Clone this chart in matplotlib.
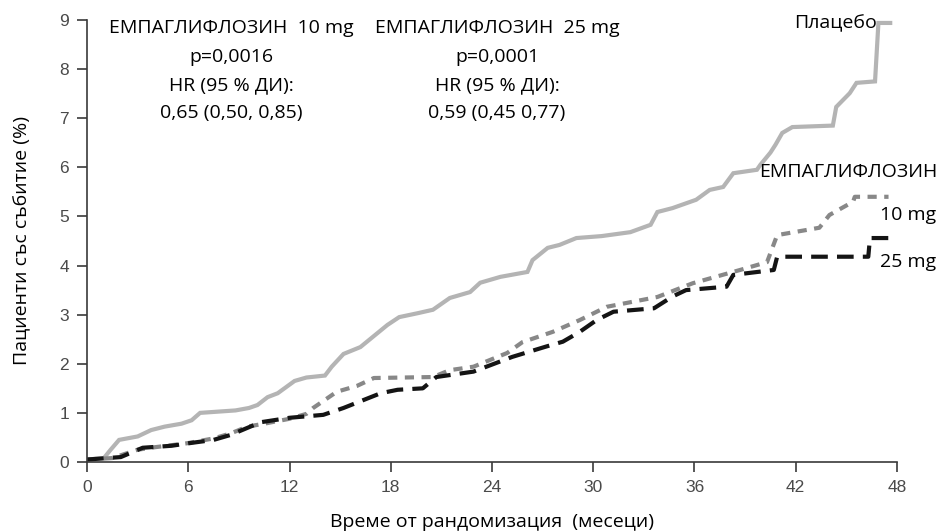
import matplotlib
matplotlib.use("Agg")
import matplotlib.pyplot as plt

# cumulative % of patients with event (months, %)
placebo_t = [0, 1.0, 1.4, 1.9, 3.0, 3.8, 4.6, 5.6, 6.2, 6.7, 8.8, 9.6, 10.1, 10.7, 11.3,
             12.3, 13.0, 14.1, 14.5, 15.2, 16.2, 17.8, 18.5, 19.6, 20.5, 21.5, 22.7,
             23.3, 24.5, 26.1, 26.4, 27.3, 28.0, 29.0, 30.5, 32.2, 33.4, 33.8, 34.7,
             36.1, 36.9, 37.7, 38.3, 39.7, 39.9, 40.5, 40.8, 41.2, 41.8, 44.2, 44.4,
             45.2, 45.6, 46.7, 46.9, 47.6]
placebo_v = [0.05, 0.08, 0.25, 0.45, 0.52, 0.65, 0.72, 0.78, 0.85, 1.00, 1.05, 1.10,
             1.16, 1.32, 1.40, 1.65, 1.72, 1.76, 1.94, 2.20, 2.34, 2.79, 2.95, 3.03,
             3.10, 3.34, 3.46, 3.65, 3.77, 3.87, 4.11, 4.36, 4.42, 4.56, 4.60, 4.68,
             4.83, 5.09, 5.17, 5.34, 5.54, 5.60, 5.88, 5.95, 6.05, 6.30, 6.46, 6.70,
             6.82, 6.85, 7.23, 7.51, 7.72, 7.75, 8.94, 8.94]

emp10_t = [0, 1.5, 3.0, 4.0, 5.9, 7.5, 8.5, 9.5, 10.5, 12.0, 13.0, 13.4, 14.8, 16.0,
           17.0, 20.5, 21.5, 22.9, 24.9, 25.8, 27.6, 29.2, 30.8, 33.8, 35.9, 38.7,
           40.3, 40.9, 43.4, 44.0, 45.4, 45.5, 47.5]
emp10_v = [0.05, 0.08, 0.25, 0.30, 0.38, 0.48, 0.58, 0.72, 0.78, 0.88, 0.98, 1.10,
           1.43, 1.55, 1.71, 1.73, 1.87, 1.94, 2.22, 2.44, 2.65, 2.89, 3.16, 3.36,
           3.64, 3.91, 4.07, 4.62, 4.77, 5.03, 5.30, 5.40, 5.40]

emp25_t = [0, 2.0, 3.3, 5.0, 6.0, 7.5, 8.5, 10.3, 12.0, 14.0, 15.2, 17.4, 18.4, 19.9,
           20.7, 22.9, 25.2, 27.2, 28.2, 29.2, 30.2, 31.2, 33.6, 34.7, 35.5, 37.9,
           38.3, 40.7, 40.9, 46.3, 46.4, 47.7]
emp25_v = [0.05, 0.10, 0.29, 0.33, 0.38, 0.45, 0.55, 0.81, 0.90, 0.96, 1.10, 1.40,
           1.47, 1.50, 1.73, 1.84, 2.14, 2.35, 2.45, 2.65, 2.89, 3.06, 3.13, 3.37,
           3.50, 3.57, 3.81, 3.91, 4.18, 4.18, 4.56, 4.56]

x_ticks = [0, 6, 12, 18, 24, 30, 36, 42, 48]
y_ticks = list(range(10))

block1 = ['ЕМПАГЛИФЛОЗИН  10 mg', 'p=0,0016', 'HR (95 % ДИ):', '0,65 (0,50, 0,85)']
block2 = ['ЕМПАГЛИФЛОЗИН  25 mg', 'p=0,0001', 'HR (95 % ДИ):', '0,59 (0,45 0,77)']
block_y = [8.84, 8.25, 7.68, 7.11]

TXT = ['Open Sans', 'DejaVu Sans']
TICKF = ['Liberation Sans', 'DejaVu Sans']
FS = 14

fig = plt.figure(figsize=(9.42, 5.32), dpi=100)
ax = fig.add_axes([0.0924, 0.1316, 0.8598, 0.8308])

ax.plot(placebo_t, placebo_v, color='#b4b4b4', lw=3.0, solid_joinstyle='miter')
ax.plot(emp10_t, emp10_v, color='#888888', lw=3.0, dashes=(2.2, 1.8))
ax.plot(emp25_t, emp25_v, color='#141414', lw=3.0, dashes=(4.0, 2.2))

ax.set_xlim(0, 48)
ax.set_ylim(0, 9)
ax.set_xticks(x_ticks)
ax.set_yticks(y_ticks)
for s in ['top', 'right']:
    ax.spines[s].set_visible(False)
for s in ['left', 'bottom']:
    ax.spines[s].set_color('#3a3a3a')
    ax.spines[s].set_linewidth(1.2)
ax.tick_params(direction='out', length=7, width=1.2, color='#3a3a3a',
               labelcolor='#4a4a4a', labelsize=12.5, pad=6)
for lab in ax.get_xticklabels() + ax.get_yticklabels():
    lab.set_family(TICKF)

ax.set_ylabel('Пациенти със събитие (%)', family=TXT, fontsize=FS, labelpad=20)
ax.set_xlabel('Време от рандомизация  (месеци)', family=TXT, fontsize=FS, labelpad=13)

for line, yy in zip(block1, block_y):
    ax.text(8.53, yy, line, family=TXT, fontsize=FS, ha='center', va='center')
for line, yy in zip(block2, block_y):
    ax.text(24.3, yy, line, family=TXT, fontsize=FS, ha='center', va='center')

ax.text(46.8, 8.94, 'Плацебо', family=TXT, fontsize=FS, ha='right', va='center')
ax.text(50.4, 5.9, 'ЕМПАГЛИФЛОЗИН', family=TXT, fontsize=FS, ha='right',
        va='center', clip_on=False)
ax.text(47.0, 5.03, '10 mg', family=TXT, fontsize=FS, ha='left', va='center',
        clip_on=False)
ax.text(47.0, 4.07, '25 mg', family=TXT, fontsize=FS, ha='left', va='center',
        clip_on=False)

fig.savefig('out.png', dpi=100)
